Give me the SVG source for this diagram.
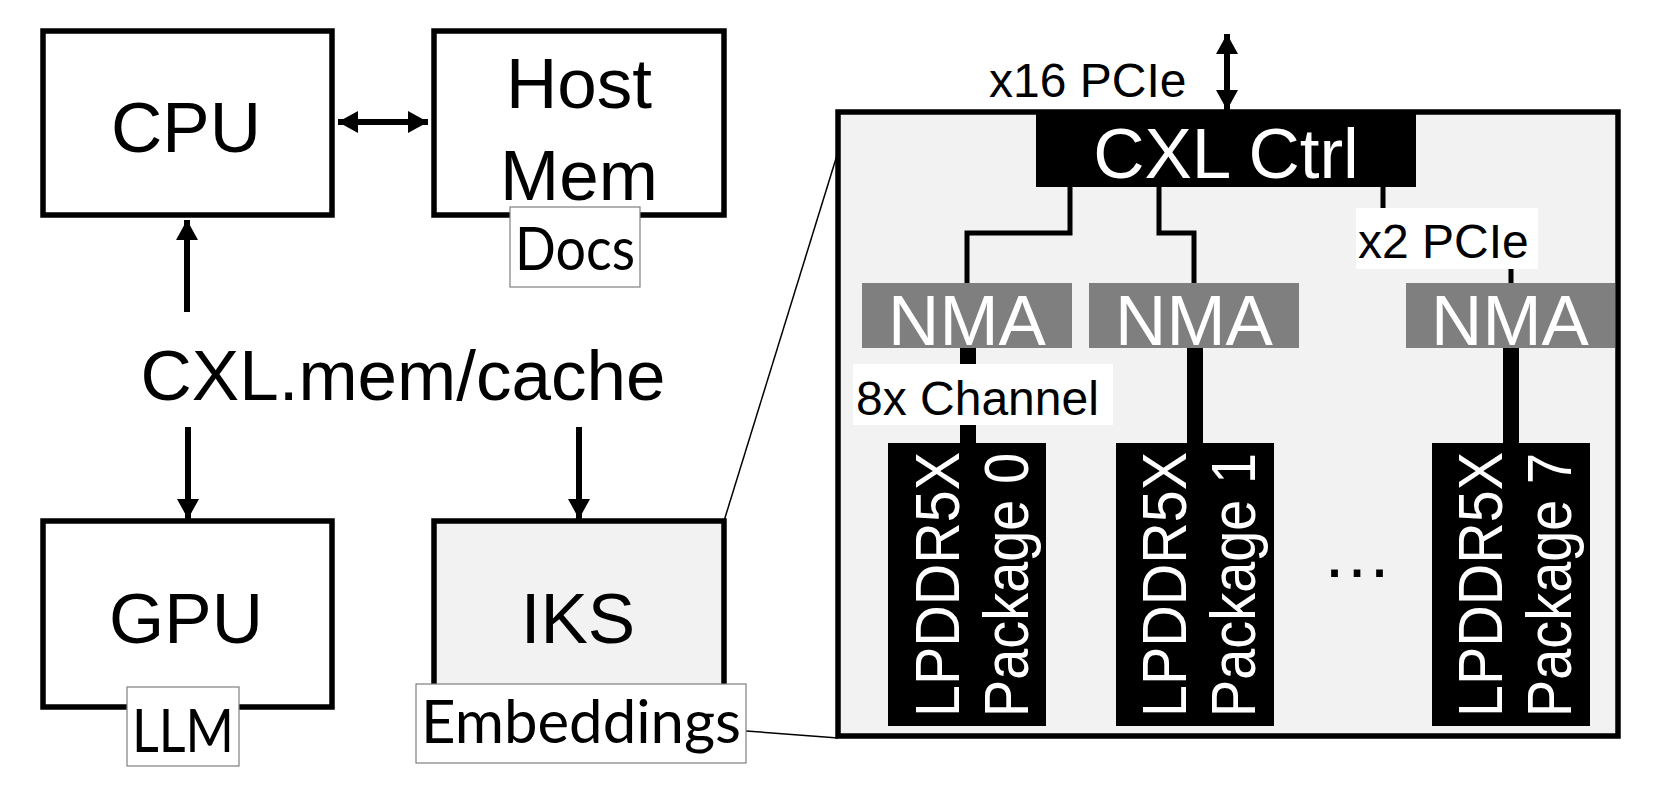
<svg xmlns="http://www.w3.org/2000/svg" width="1660" height="804" viewBox="0 0 1660 804">
<style>
.box{fill:#fff;stroke:#000;stroke-width:5.5}
.gbox{fill:#f2f2f2;stroke:#000;stroke-width:5.5}
.lbl{fill:#fff;stroke:#7f7f7f;stroke-width:1.2}
.big{font-family:"Liberation Sans",Arial,sans-serif;font-size:71px;fill:#000;text-anchor:middle}
.mid{font-family:"Liberation Sans",Arial,sans-serif;font-size:48px;fill:#000}
.cal{font-family:Lato,"Open Sans",sans-serif;font-size:60px;fill:#000}
.wt{fill:#fff}
.nma{fill:#7f7f7f}
.blk{fill:#000}
.ln{fill:none;stroke:#000;stroke-width:5}
.arr{fill:none;stroke:#000;stroke-width:6}
.thk{fill:none;stroke:#000;stroke-width:16}
.thin{fill:none;stroke:#000;stroke-width:1.5}
.pk{font-family:"Liberation Sans",Arial,sans-serif;font-size:63px;fill:#fff}
</style>
<defs>
<marker id="ah" markerUnits="userSpaceOnUse" markerWidth="20" markerHeight="22" refX="20" refY="11" orient="auto-start-reverse" viewBox="0 0 20 22">
<path d="M0,0 L20,11 L0,22 z" fill="#000"/>
</marker>
</defs>
<rect width="1660" height="804" fill="#fff"/>

<g id="connectors">
<line class="arr" x1="338" y1="122" x2="428" y2="122" marker-start="url(#ah)" marker-end="url(#ah)"/>
<line class="arr" x1="187" y1="312" x2="187" y2="220" marker-end="url(#ah)"/>
<line class="arr" x1="188" y1="427" x2="188" y2="519" marker-end="url(#ah)"/>
<line class="arr" x1="579" y1="427" x2="579" y2="519" marker-end="url(#ah)"/>
<line class="arr" x1="1227" y1="34" x2="1227" y2="110" marker-start="url(#ah)" marker-end="url(#ah)"/>
<line class="thin" x1="724" y1="521" x2="838" y2="152"/>
<line class="thin" x1="746" y1="731" x2="838" y2="738"/>
</g>

<g id="cpu">
<rect class="box" x="43" y="31" width="289" height="184"/>
<text class="big" x="186" y="152">CPU</text>
</g>

<g id="hostmem">
<rect class="box" x="434" y="31" width="290" height="184"/>
<text class="big" x="579" y="108">Host</text>
<text class="big" x="579" y="200">Mem</text>
</g>

<g id="docs">
<rect class="lbl" x="510" y="207" width="130" height="80"/>
<text class="cal" x="575" y="270" text-anchor="middle" textLength="120" lengthAdjust="spacingAndGlyphs">Docs</text>
</g>

<g id="cxlmem">
<text class="big" x="403" y="400">CXL.mem/cache</text>
</g>

<g id="gpu">
<rect class="box" x="43" y="521" width="289" height="186"/>
<text class="big" x="186" y="643">GPU</text>
</g>

<g id="llm">
<rect class="lbl" x="127" y="687" width="112" height="79"/>
<text class="cal" x="183" y="752" text-anchor="middle" textLength="102" lengthAdjust="spacingAndGlyphs">LLM</text>
</g>

<g id="iks">
<rect class="gbox" x="434" y="521" width="290" height="180"/>
<text class="big" x="578" y="643">IKS</text>
</g>

<g id="embeddings">
<rect class="lbl" x="416" y="684" width="330" height="79"/>
<text class="cal" x="581" y="743" text-anchor="middle" textLength="320" lengthAdjust="spacingAndGlyphs">Embeddings</text>
</g>

<g id="iks-detail">
<rect class="gbox" x="838" y="112" width="780" height="624"/>
</g>

<g id="x16-label">
<text class="mid" x="989" y="97">x16 PCIe</text>
</g>

<g id="inner-connectors">
<path class="ln" d="M1070,187 V233 H967 V283"/>
<path class="ln" d="M1159,187 V233 H1194 V283"/>
<path class="ln" d="M1383,187 V240 H1511 V283"/>
<line class="thk" x1="968" y1="348" x2="968" y2="443"/>
<line class="thk" x1="1195" y1="348" x2="1195" y2="443"/>
<line class="thk" x1="1511" y1="348" x2="1511" y2="443"/>
</g>

<g id="cxl-ctrl">
<rect class="blk" x="1036" y="112" width="380" height="75"/>
<text class="big wt" x="1226" y="178" font-size="68">CXL Ctrl</text>
</g>

<g id="x2-label">
<rect fill="#fff" x="1356" y="208" width="182" height="61"/>
<text class="mid" x="1358" y="258">x2 PCIe</text>
</g>

<g id="nma0">
<rect class="nma" x="862" y="283" width="210" height="65"/>
<text class="big wt" x="967" y="345">NMA</text>
</g>
<g id="nma1">
<rect class="nma" x="1089" y="283" width="210" height="65"/>
<text class="big wt" x="1194" y="345">NMA</text>
</g>
<g id="nma7">
<rect class="nma" x="1406" y="283" width="209" height="65"/>
<text class="big wt" x="1510" y="345">NMA</text>
</g>

<g id="ch-label">
<rect fill="#fff" x="853" y="364" width="260" height="61"/>
<text class="mid" x="856" y="415">8x Channel</text>
</g>

<g id="pkg0">
<rect class="blk" x="888" y="443" width="158" height="283"/>
<text class="pk" transform="translate(959,717) rotate(-90)" textLength="265" lengthAdjust="spacingAndGlyphs">LPDDR5X</text>
<text class="pk" transform="translate(1028,717) rotate(-90)" textLength="264" lengthAdjust="spacingAndGlyphs">Package 0</text>
</g>
<g id="pkg1">
<rect class="blk" x="1116" y="443" width="158" height="283"/>
<text class="pk" transform="translate(1186,717) rotate(-90)" textLength="265" lengthAdjust="spacingAndGlyphs">LPDDR5X</text>
<text class="pk" transform="translate(1255,717) rotate(-90)" textLength="264" lengthAdjust="spacingAndGlyphs">Package 1</text>
</g>
<g id="pkg7">
<rect class="blk" x="1432" y="443" width="158" height="283"/>
<text class="pk" transform="translate(1502,717) rotate(-90)" textLength="265" lengthAdjust="spacingAndGlyphs">LPDDR5X</text>
<text class="pk" transform="translate(1571,717) rotate(-90)" textLength="264" lengthAdjust="spacingAndGlyphs">Package 7</text>
</g>

<g id="ellipsis">
<text class="big" x="1357" y="577" font-size="92">…</text>
</g>
</svg>
